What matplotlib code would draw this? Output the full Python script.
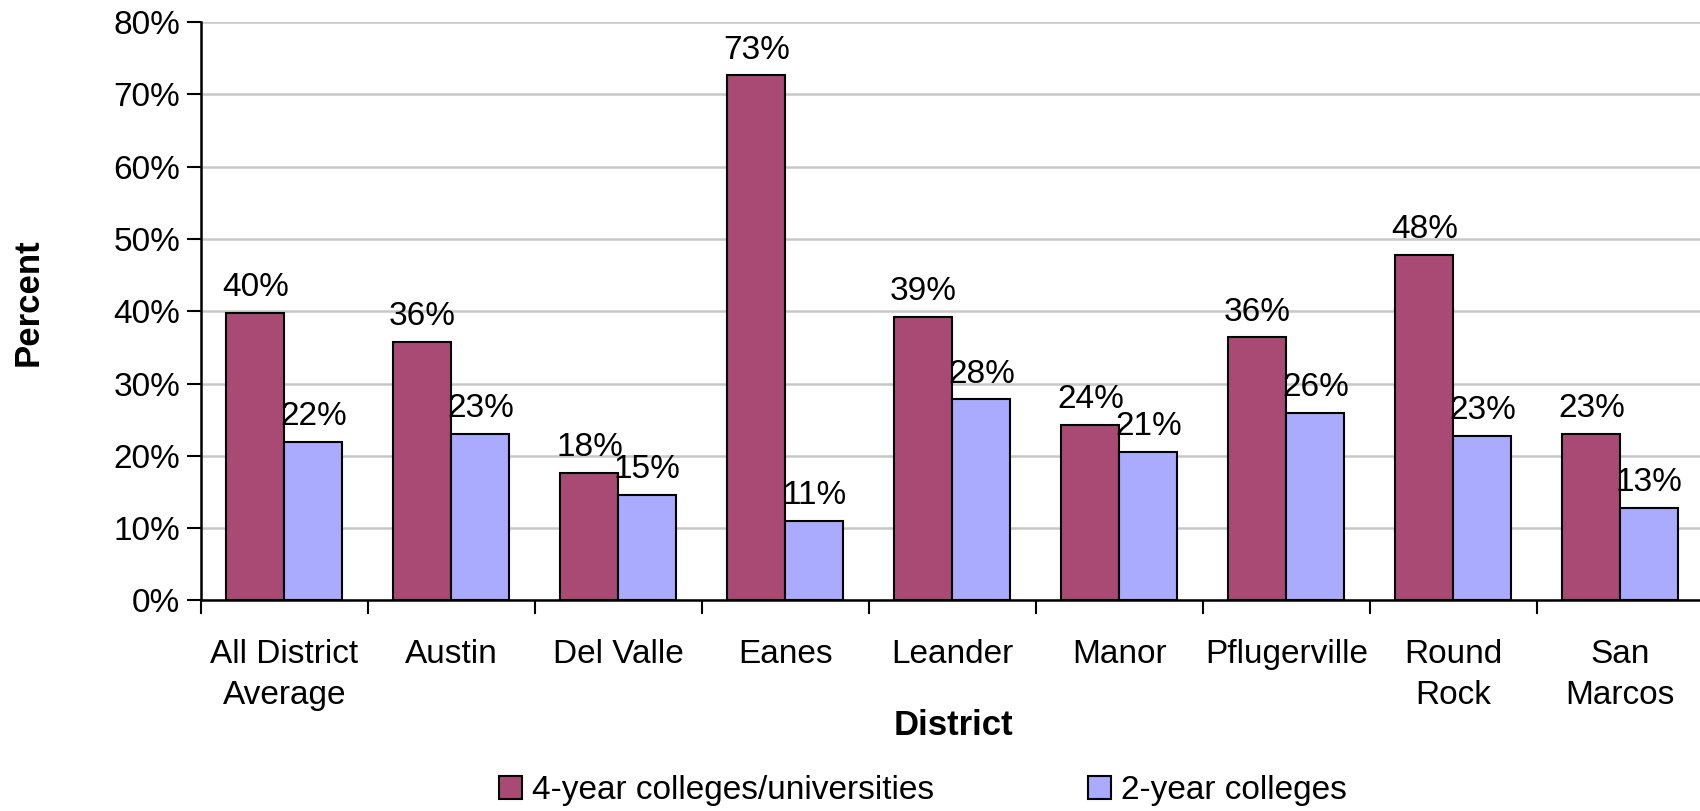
import matplotlib
matplotlib.use("Agg")
import matplotlib.pyplot as plt
import numpy as np

plt.rcParams['font.family'] = ['Liberation Sans', 'DejaVu Sans']

districts = ["All District\nAverage", "Austin", "Del Valle", "Eanes", "Leander",
             "Manor", "Pflugerville", "Round\nRock", "San\nMarcos"]
four_year = [39.8, 35.8, 17.6, 72.6, 39.2, 24.3, 36.4, 47.8, 23.0]
two_year = [21.9, 23.0, 14.6, 11.0, 27.8, 20.6, 25.9, 22.8, 12.8]
series_names = ["4-year colleges/universities", "2-year colleges"]

red = "#A94A74"
blue = "#AAAAFF"

fig = plt.figure(figsize=(17, 8.11), dpi=100)
ax = fig.add_axes([0.1182, 0.2596, 0.8841, 0.7133])

x = np.arange(len(districts))
w = 0.347
b1 = ax.bar(x - w / 2, four_year, w, color=red, edgecolor="black", linewidth=1.5,
            label=series_names[0], zorder=3)
b2 = ax.bar(x + w / 2, two_year, w, color=blue, edgecolor="black", linewidth=1.5,
            label=series_names[1], zorder=3)

for bars, vals in ((b1, four_year), (b2, two_year)):
    for r, v in zip(bars, vals):
        ax.annotate("%.0f%%" % v, (r.get_x() + r.get_width() / 2, v),
                    xytext=(0, 7), textcoords="offset points",
                    ha="center", va="bottom", fontsize=24)

ax.set_xlim(-0.5, len(districts) - 0.5)
ax.set_ylim(0, 80)
ax.set_yticks(np.arange(0, 81, 10))
ax.set_yticklabels(["%d%%" % t for t in range(0, 81, 10)], fontsize=24)
ax.yaxis.grid(True, color="#c8c8c8", linewidth=1.8, zorder=0)
ax.set_axisbelow(True)

ax.set_xticks(x)
ax.set_xticklabels(districts, fontsize=24, linespacing=1.4)
ax.set_xticks(np.arange(-0.5, len(districts), 1), minor=True)
ax.tick_params(axis="x", which="major", length=0, pad=28)
ax.tick_params(axis="x", which="minor", length=10, width=1.5)
ax.tick_params(axis="y", length=10, width=1.5, pad=5)

for s in ("top", "right"):
    ax.spines[s].set_visible(False)
for s in ("left", "bottom"):
    ax.spines[s].set_linewidth(1.8)

fig.text(0.0165, 0.628, "Percent", rotation=90, ha="center", va="center",
         fontsize=25, fontweight="bold")
fig.text(0.561, 0.105, "District", ha="center", va="center",
         fontsize=25, fontweight="bold")

fig.legend(handles=[b1, b2], labels=series_names, loc="center",
           bbox_to_anchor=(0.543, 0.025), ncol=2, frameon=False, fontsize=24,
           handlelength=0.7, handleheight=0.7, handletextpad=0.3, columnspacing=4.6)

fig.savefig("out.png", dpi=100)
